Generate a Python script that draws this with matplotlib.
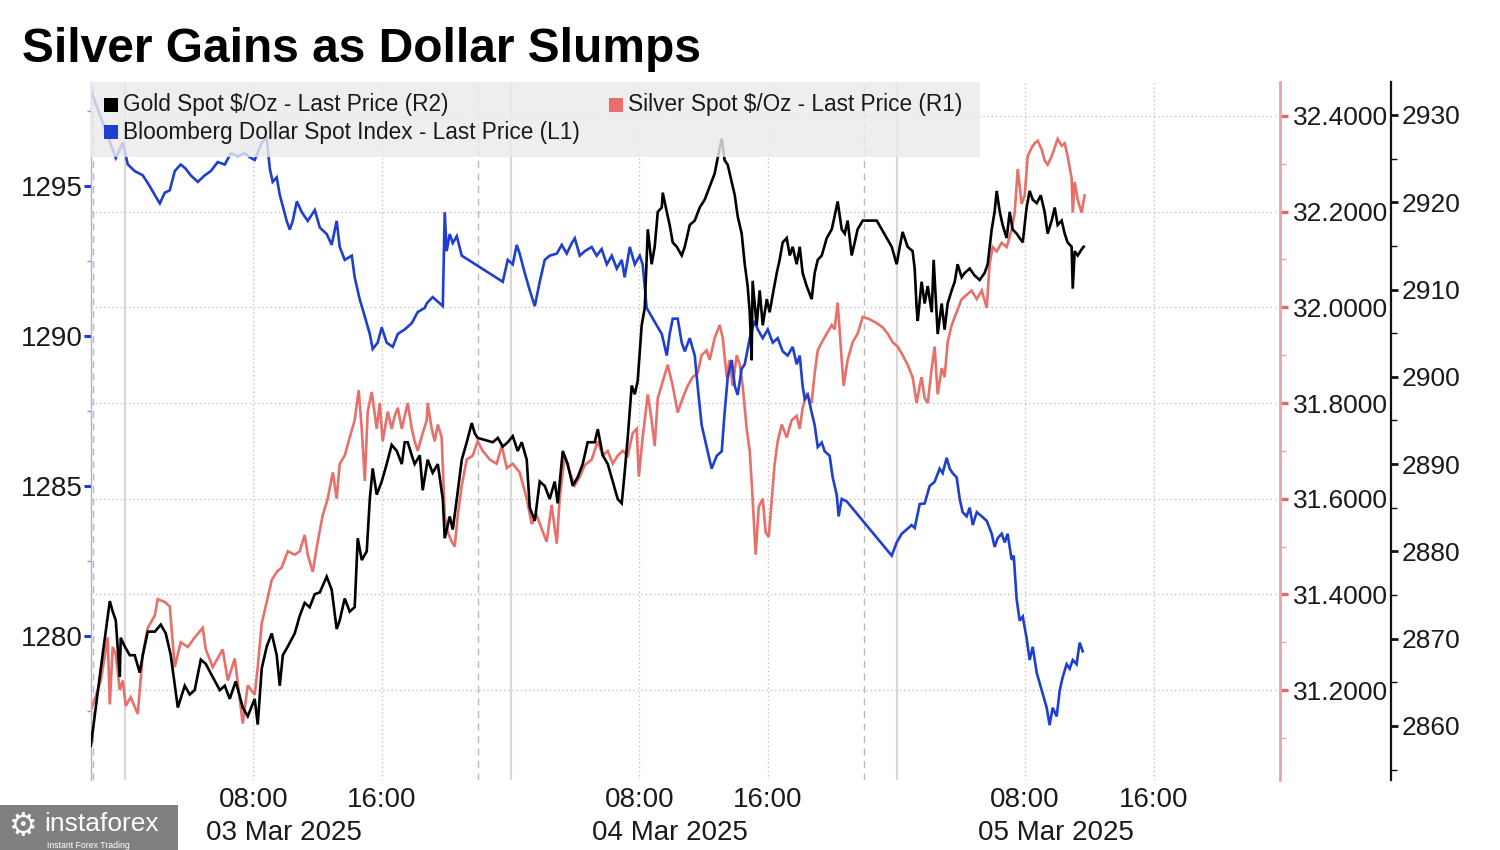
import matplotlib
matplotlib.use("Agg")
import matplotlib.pyplot as plt
from matplotlib import font_manager
from matplotlib.patches import Rectangle
from matplotlib.ticker import MultipleLocator, FormatStrFormatter


def pick(*names):
    for n in names:
        try:
            font_manager.findfont(font_manager.FontProperties(family=n), fallback_to_default=False)
            return n
        except Exception:
            pass
    return "DejaVu Sans"


NARROW = pick("Liberation Sans Narrow", "Liberation Sans", "DejaVu Sans")
SANS = pick("Liberation Sans", "DejaVu Sans")
IS_NARROW = NARROW == "Liberation Sans Narrow"
TICK_FS = 23 if IS_NARROW else 20
RTICK_FS = 23 if IS_NARROW else 19

# ---------------- data (time = hours since 03 Mar 2025 00:00) ----------------
title = "Silver Gains as Dollar Slumps"
series_names = ["Gold Spot $/Oz - Last Price (R2)",
                "Silver Spot $/Oz - Last Price (R1)",
                "Bloomberg Dollar Spot Index - Last Price (L1)"]

dxy_t = [-2.11, -0.56, -0.12, 0.19, 0.62, 1.12, 1.55, 1.87, 2.18, 2.49, 2.80, 3.11, 3.48, 3.79,
         4.10, 4.54, 4.98, 5.35, 5.78, 6.22, 6.59, 7.03, 7.46, 7.84, 8.08, 8.52, 8.83, 9.02,
         9.20, 9.45, 9.64, 10.07, 10.26, 10.45, 10.70, 11.01, 11.38, 11.82, 12.13, 12.56, 12.87,
         13.18, 13.37, 13.68, 14.12, 14.30, 14.61, 14.93, 15.24, 15.42, 15.73, 15.98, 16.29,
         16.67, 16.98, 17.41, 17.85, 18.22, 18.66, 18.78, 19.15, 19.59, 19.78, 19.90, 20.02,
         20.21, 20.40, 20.65, 20.96, 23.51, 23.82, 24.13, 24.38, 24.56, 24.88, 25.19, 25.50,
         25.81, 26.12, 26.43, 26.87, 27.18, 27.49, 27.80, 27.99, 28.30, 28.61, 29.04, 29.35,
         29.66, 29.98, 30.29, 30.60, 30.91, 31.09, 31.41, 31.72, 32.03, 32.21, 32.46, 32.77,
         33.08, 33.40, 33.71, 33.89, 34.08, 34.39, 34.64, 34.83, 35.14, 35.45, 35.63, 35.88,
         36.19, 36.50, 36.82, 37.13, 37.31, 37.50, 37.75, 37.94, 38.12, 38.37, 38.56, 38.87,
         39.18, 39.37, 39.68, 39.99, 40.30, 40.61, 40.92, 41.23, 41.54, 41.79, 41.98, 42.16,
         42.29, 42.48, 42.72, 42.91, 43.10, 43.35, 43.53, 43.84, 44.03, 44.28, 44.40, 44.59,
         44.90, 47.70, 48.01, 48.32, 48.63, 48.94, 49.13, 49.44, 49.75, 50.06, 50.37, 50.68,
         50.87, 51.12, 51.31, 51.49, 51.74, 51.93, 52.11, 52.36, 52.55, 52.74, 52.99, 53.30,
         53.61, 53.92, 54.10, 54.29, 54.54, 54.73, 54.91, 55.16, 55.29, 55.47, 55.66, 55.85,
         56.09, 56.28, 56.47, 56.72, 57.03, 57.34, 57.52, 57.71, 57.96, 58.15, 58.33, 58.58,
         58.77, 58.96, 59.20, 59.39, 59.58]
dxy_v = [1298.2, 1295.94, 1296.45, 1295.72, 1295.5, 1295.36, 1295.0, 1294.7, 1294.42, 1294.78,
         1294.86, 1295.5, 1295.72, 1295.58, 1295.36, 1295.14, 1295.36, 1295.5, 1295.8, 1295.72,
         1296.09, 1296.0, 1296.1, 1295.94, 1295.87, 1296.45, 1296.6, 1295.58, 1295.14, 1295.29,
         1294.71, 1293.84, 1293.55, 1293.84, 1294.49, 1294.13, 1293.84, 1294.2, 1293.62, 1293.4,
         1293.04, 1293.84, 1292.97, 1292.54, 1292.68, 1291.96, 1291.23, 1290.65, 1290.07,
         1289.57, 1289.78, 1290.29, 1289.78, 1289.64, 1290.07, 1290.22, 1290.43, 1290.8,
         1290.94, 1291.09, 1291.3, 1291.09, 1291.0, 1294.13, 1292.83, 1293.4, 1293.1, 1293.33,
         1292.68, 1291.81, 1292.54, 1292.39, 1293.04, 1292.75, 1292.1, 1291.52, 1291.0, 1291.81,
         1292.54, 1292.68, 1292.75, 1293.04, 1292.75, 1293.1, 1293.26, 1292.68, 1292.83,
         1292.97, 1292.68, 1292.9, 1292.39, 1292.68, 1292.25, 1292.54, 1291.96, 1292.97,
         1292.39, 1292.68, 1292.39, 1290.94, 1290.65, 1290.36, 1290.07, 1289.35, 1290.07,
         1290.58, 1290.58, 1289.78, 1289.49, 1289.93, 1289.35, 1288.33, 1287.03, 1286.3,
         1285.58, 1286.01, 1286.16, 1287.46, 1288.62, 1289.2, 1288.33, 1288.04, 1288.91,
         1289.06, 1289.93, 1290.51, 1290.22, 1289.93, 1290.22, 1289.78, 1289.93, 1289.49,
         1289.35, 1289.64, 1289.06, 1289.35, 1288.33, 1287.9, 1288.04, 1287.46, 1287.03,
         1286.3, 1286.45, 1286.16, 1286.01, 1285.29, 1284.71, 1283.99, 1284.57, 1284.49,
         1282.68, 1283.12, 1283.41, 1283.55, 1283.7, 1283.6, 1284.4, 1284.42, 1285.0, 1285.14,
         1285.58, 1285.43, 1285.94, 1285.58, 1285.43, 1285.29, 1284.57, 1284.13, 1283.99,
         1284.28, 1283.7, 1284.13, 1283.99, 1283.84, 1283.41, 1282.97, 1283.26, 1283.41,
         1283.12, 1283.41, 1282.54, 1282.68, 1281.23, 1280.51, 1280.65, 1279.93, 1279.2,
         1279.64, 1278.77, 1278.19, 1277.61, 1277.03, 1277.61, 1277.32, 1278.19, 1278.62,
         1279.06, 1278.91, 1279.2, 1279.06, 1279.78, 1279.49]

sil_t = [-2.11, -1.49, -1.06, -0.93, -0.75, -0.56, -0.31, -0.12, 0.06, 0.37, 0.81, 1.12, 1.43,
         1.87, 2.05, 2.49, 2.80, 3.11, 3.48, 3.92, 4.35, 4.85, 5.04, 5.47, 6.09, 6.41, 6.84, 7.34,
         7.65, 8.08, 8.27, 8.52, 8.83, 9.14, 9.45, 9.76, 10.14, 10.57, 10.88, 11.19, 11.38, 11.69,
         12.00, 12.31, 12.62, 12.94, 13.18, 13.37, 13.68, 13.99, 14.30, 14.55, 14.74, 14.93,
         15.11, 15.36, 15.67, 15.86, 16.04, 16.36, 16.60, 16.79, 16.98, 17.23, 17.60, 17.85,
         18.03, 18.22, 18.53, 18.78, 18.84, 19.09, 19.28, 19.47, 19.71, 19.90, 20.09, 20.34,
         20.52, 20.71, 20.96, 21.27, 21.64, 21.95, 22.26, 22.70, 23.13, 23.45, 23.76, 24.13,
         24.56, 25.00, 25.31, 25.62, 25.93, 26.24, 26.55, 26.87, 27.05, 27.36, 27.67, 27.99,
         28.30, 28.61, 29.04, 29.42, 29.73, 30.04, 30.35, 30.66, 30.97, 31.28, 31.59, 31.84,
         31.97, 32.21, 32.53, 32.77, 32.96, 33.15, 33.46, 33.77, 34.08, 34.39, 34.70, 35.01,
         35.32, 35.63, 35.88, 36.19, 36.38, 36.69, 37.00, 37.19, 37.44, 37.62, 37.81, 38.06,
         38.25, 38.43, 38.68, 38.87, 39.05, 39.24, 39.43, 39.68, 39.86, 40.05, 40.24, 40.42,
         40.61, 40.86, 41.17, 41.48, 41.79, 41.98, 42.16, 42.41, 42.72, 42.91, 43.10, 43.35,
         43.66, 43.97, 44.15, 44.34, 44.59, 44.71, 44.96, 45.27, 45.58, 45.90, 46.33, 46.77,
         47.14, 47.45, 47.76, 48.07, 48.38, 48.69, 49.00, 49.25, 49.44, 49.56, 49.75, 49.94,
         50.19, 50.37, 50.56, 50.81, 50.99, 51.18, 51.43, 51.74, 52.05, 52.36, 52.67, 52.99,
         53.30, 53.61, 53.79, 53.98, 54.23, 54.54, 54.85, 55.16, 55.35, 55.54, 55.78, 55.97,
         56.16, 56.41, 56.59, 56.78, 57.03, 57.21, 57.40, 57.65, 57.84, 58.02, 58.27, 58.46,
         58.64, 58.89, 58.96, 59.08, 59.27, 59.51, 59.70]
sil_v = [31.157, 31.22, 31.31, 31.17, 31.29, 31.275, 31.2, 31.22, 31.167, 31.185, 31.15, 31.275,
         31.33, 31.356, 31.39, 31.384, 31.375, 31.248, 31.3, 31.29, 31.31, 31.33, 31.285, 31.248,
         31.285, 31.22, 31.266, 31.13, 31.21, 31.19, 31.248, 31.34, 31.384, 31.43, 31.447,
         31.456, 31.49, 31.483, 31.49, 31.524, 31.483, 31.447, 31.51, 31.565, 31.6, 31.655, 31.6,
         31.673, 31.69, 31.728, 31.764, 31.827, 31.746, 31.637, 31.782, 31.823, 31.746, 31.8,
         31.72, 31.782, 31.746, 31.773, 31.79, 31.746, 31.8, 31.746, 31.72, 31.7, 31.737,
         31.764, 31.8, 31.746, 31.72, 31.755, 31.728, 31.565, 31.53, 31.51, 31.5, 31.565,
         31.628, 31.682, 31.69, 31.72, 31.7, 31.682, 31.673, 31.71, 31.664, 31.673, 31.655,
         31.6, 31.547, 31.565, 31.537, 31.51, 31.587, 31.506, 31.6, 31.69, 31.655, 31.628,
         31.646, 31.67, 31.682, 31.72, 31.69, 31.7, 31.673, 31.69, 31.7, 31.69, 31.737, 31.746,
         31.646, 31.728, 31.818, 31.764, 31.71, 31.81, 31.845, 31.88, 31.836, 31.78, 31.81,
         31.836, 31.854, 31.863, 31.9, 31.91, 31.89, 31.936, 31.963, 31.936, 31.854, 31.89,
         31.836, 31.9, 31.88, 31.836, 31.746, 31.7, 31.6, 31.483, 31.583, 31.6, 31.53, 31.52,
         31.6, 31.673, 31.72, 31.755, 31.728, 31.764, 31.773, 31.746, 31.79, 31.818, 31.8,
         31.863, 31.91, 31.927, 31.945, 31.963, 31.954, 32.01, 31.89, 31.836, 31.89, 31.927,
         31.945, 31.98, 31.975, 31.967, 31.958, 31.945, 31.927, 31.918, 31.9, 31.88, 31.854,
         31.8, 31.836, 31.854, 31.81, 31.8, 31.873, 31.918, 31.818, 31.873, 31.854, 31.927,
         31.963, 31.99, 32.017, 32.026, 32.035, 32.017, 32.035, 31.999, 32.09, 32.126, 32.117,
         32.135, 32.126, 32.162, 32.198, 32.289, 32.216, 32.234, 32.316, 32.334, 32.343,
         32.348, 32.33, 32.307, 32.298, 32.316, 32.334, 32.352, 32.338, 32.343, 32.316, 32.27,
         32.198, 32.262, 32.225, 32.198, 32.234]

gld_t = [-2.11, -1.49, -0.93, -0.75, -0.56, -0.31, -0.25, 0.00, 0.31, 0.62, 0.93, 1.12, 1.43,
         1.87, 2.24, 2.55, 2.86, 3.30, 3.73, 4.04, 4.35, 4.73, 5.04, 5.47, 5.91, 6.22, 6.53, 6.90,
         7.34, 7.65, 8.08, 8.27, 8.52, 8.83, 9.14, 9.45, 9.64, 9.83, 10.14, 10.57, 10.88, 11.19,
         11.50, 11.82, 12.13, 12.56, 12.87, 13.18, 13.37, 13.68, 13.99, 14.30, 14.49, 14.74,
         15.05, 15.24, 15.42, 15.67, 15.98, 16.29, 16.60, 16.92, 17.23, 17.41, 17.60, 17.85,
         18.03, 18.35, 18.53, 18.84, 19.15, 19.47, 19.78, 19.90, 20.21, 20.40, 20.65, 20.96,
         21.27, 21.58, 21.77, 21.95, 22.89, 23.20, 23.51, 23.82, 24.13, 24.44, 24.69, 25.00,
         25.19, 25.50, 25.81, 26.12, 26.43, 26.74, 26.93, 27.24, 27.55, 27.86, 28.17, 28.48,
         28.79, 29.23, 29.42, 29.73, 30.04, 30.35, 30.66, 30.91, 31.09, 31.28, 31.53, 31.72,
         31.90, 32.15, 32.34, 32.53, 32.77, 32.96, 33.15, 33.40, 33.46, 33.71, 33.89, 34.08,
         34.33, 34.64, 34.83, 35.14, 35.45, 35.76, 36.07, 36.38, 36.69, 36.88, 37.13, 37.31,
         37.50, 37.75, 37.94, 38.12, 38.37, 38.56, 38.74, 38.87, 38.99, 39.05, 39.30, 39.49,
         39.68, 39.93, 40.11, 40.30, 40.55, 40.73, 40.92, 41.17, 41.36, 41.54, 41.79, 41.98,
         42.16, 42.41, 42.72, 42.91, 43.10, 43.35, 43.66, 43.97, 44.15, 44.34, 44.59, 44.78,
         44.96, 45.21, 45.40, 45.58, 45.90, 46.77, 47.08, 47.39, 47.70, 48.01, 48.20, 48.38,
         48.69, 49.00, 49.13, 49.25, 49.32, 49.56, 49.75, 49.94, 50.19, 50.31, 50.56, 50.81,
         50.99, 51.18, 51.43, 51.62, 51.80, 52.05, 52.24, 52.55, 52.86, 53.17, 53.48, 53.67,
         53.92, 54.10, 54.23, 54.42, 54.60, 54.85, 55.04, 55.22, 55.47, 55.66, 55.85, 56.09,
         56.28, 56.47, 56.72, 56.97, 57.21, 57.40, 57.65, 57.84, 58.02, 58.27, 58.46, 58.64,
         58.89, 58.96, 59.08, 59.27, 59.51, 59.64]
gld_v = [2857.7, 2866.6, 2874.3, 2873.1, 2872.1, 2865.6, 2870.1, 2869.1, 2868.1, 2868.1, 2866.1,
         2868.1, 2870.8, 2870.8, 2871.6, 2870.6, 2868.1, 2862.1, 2864.6, 2863.6, 2864.1, 2867.6,
         2867.1, 2865.6, 2864.1, 2864.6, 2863.1, 2865.1, 2862.1, 2861.1, 2863.1, 2860.15,
         2866.6, 2869.1, 2870.6, 2868.1, 2864.6, 2868.1, 2869.1, 2870.6, 2872.6, 2874.1, 2873.6,
         2875.1, 2875.3, 2877.1, 2875.6, 2871.1, 2872.1, 2874.6, 2873.1, 2873.6, 2881.5, 2879.0,
         2880.0, 2886.0, 2889.5, 2886.5, 2888.0, 2890.0, 2892.2, 2891.5, 2890.0, 2892.5, 2892.5,
         2891.0, 2890.0, 2891.0, 2887.0, 2890.5, 2889.0, 2890.0, 2886.0, 2881.5, 2884.0, 2882.5,
         2886.0, 2890.5, 2892.5, 2894.7, 2893.5, 2893.0, 2892.5, 2893.0, 2892.0, 2892.5, 2893.2,
         2891.5, 2892.5, 2890.5, 2885.0, 2883.5, 2888.0, 2887.5, 2886.0, 2888.0, 2885.5, 2891.5,
         2890.0, 2887.5, 2888.5, 2890.0, 2892.5, 2892.5, 2894.0, 2891.0, 2890.0, 2888.0, 2886.0,
         2885.5, 2889.0, 2893.0, 2899.0, 2898.0, 2899.5, 2905.9, 2907.9, 2916.9, 2912.9, 2914.9,
         2918.9, 2919.4, 2921.1, 2918.9, 2917.4, 2915.4, 2914.9, 2913.9, 2914.9, 2917.4, 2917.9,
         2919.4, 2920.3, 2921.8, 2923.3, 2925.1, 2927.3, 2924.8, 2924.3, 2922.3, 2920.8, 2918.4,
         2916.4, 2912.9, 2910.4, 2907.4, 2901.9, 2911.0, 2905.9, 2909.9, 2905.9, 2908.9, 2907.4,
         2909.4, 2911.9, 2913.4, 2915.4, 2915.9, 2913.9, 2914.9, 2912.9, 2914.9, 2911.9, 2910.4,
         2908.9, 2911.9, 2913.4, 2913.9, 2915.9, 2916.9, 2918.4, 2920.1, 2916.9, 2916.4, 2917.9,
         2913.9, 2915.4, 2916.9, 2917.9, 2917.9, 2916.9, 2915.9, 2914.9, 2912.9, 2914.9, 2916.6,
         2914.9, 2914.4, 2912.4, 2907.9, 2906.4, 2910.9, 2908.4, 2910.4, 2907.4, 2913.4, 2904.9,
         2908.4, 2905.4, 2908.4, 2909.9, 2910.9, 2912.9, 2911.4, 2911.9, 2912.4, 2911.6, 2911.1,
         2911.9, 2912.9, 2916.9, 2918.9, 2921.3, 2918.9, 2917.4, 2915.9, 2918.9, 2916.9, 2916.4,
         2915.9, 2915.4, 2919.4, 2921.3, 2920.3, 2919.9, 2920.8, 2918.9, 2916.4, 2917.9, 2919.4,
         2917.4, 2917.9, 2916.4, 2915.4, 2914.9, 2910.1, 2914.4, 2913.9, 2914.6, 2914.9]

time_ticks = [8, 16, 32, 40, 56, 64]
time_labels = ["08:00", "16:00", "08:00", "16:00", "08:00", "16:00"]
day_starts = [0, 24, 48]
date_labels = ["03 Mar 2025", "04 Mar 2025", "05 Mar 2025"]
session_breaks = [-2, 22, 46]

# ---------------- styling ----------------
C_GOLD = "#000000"
C_SIL = "#e8706b"
C_DXY = "#1f3fcf"
TXT = "#1a1a1a"
LW = 1.9

W, H = 1500, 850
L, R, T, B = 91, 1280, 82, 780

fig = plt.figure(figsize=(W / 100, H / 100), dpi=100, facecolor="white")
ax_d = fig.add_axes([L / W, 1 - B / H, (R - L) / W, (B - T) / H])
ax_s = ax_d.twinx()
ax_g = ax_d.twinx()
ax_s.set_zorder(1)
ax_d.set_zorder(2)
ax_g.set_zorder(3)
for a in (ax_d, ax_s, ax_g):
    a.patch.set_visible(False)
    for s in ("top", "bottom", "left", "right"):
        a.spines[s].set_visible(False)

ax_d.set_xlim(-2.1, 71.85)
ax_d.set_ylim(1275.2, 1298.47)
ax_s.set_ylim(31.012, 32.471)
ax_g.set_ylim(2853.8, 2933.78)

# grid / session lines on the silver (bottom) axes
for h in time_ticks:
    ax_s.axvline(h, color="#c4c4c4", ls=(0, (1, 2)), lw=1.0, zorder=0)
for h in day_starts:
    ax_s.axvline(h, color="#d8d8d8", ls="-", lw=1.6, zorder=0)
for h in session_breaks:
    ax_s.axvline(h, color="#b8b8b8", ls=(0, (5, 4)), lw=1.0, zorder=0)
ax_s.yaxis.grid(True, color="#c4c4c4", ls=(0, (1, 2)), lw=1.0)
ax_s.set_axisbelow(True)

# series
ax_s.plot(sil_t, sil_v, color=C_SIL, lw=LW, zorder=2, solid_joinstyle="miter")
ax_d.plot(dxy_t, dxy_v, color=C_DXY, lw=LW, zorder=2, solid_joinstyle="miter")
ax_g.plot(gld_t, gld_v, color=C_GOLD, lw=LW, zorder=2, solid_joinstyle="miter")

# x axis
ax_d.set_xticks([])
for h, lab in zip(time_ticks, time_labels):
    ax_d.annotate(lab, xy=(h, 0), xycoords=("data", "axes fraction"), xytext=(0, -14.5),
                  textcoords="offset points", ha="center", va="center",
                  fontsize=TICK_FS, family=NARROW, color=TXT)
for d, lab in zip(day_starts, date_labels):
    ax_d.annotate(lab, xy=(d + 9.93, 0), xycoords=("data", "axes fraction"), xytext=(0, -38),
                  textcoords="offset points", ha="center", va="center",
                  fontsize=TICK_FS, family=NARROW, color=TXT)

# left axis (dollar index)
ax_d.spines["left"].set_visible(True)
ax_d.spines["left"].set_color("#aab3df")
ax_d.spines["left"].set_linewidth(1.0)
ax_d.yaxis.set_major_locator(MultipleLocator(5))
ax_d.yaxis.set_minor_locator(MultipleLocator(2.5))
ax_d.tick_params(axis="y", which="major", direction="out", length=5, width=2.2,
                 color=C_DXY, labelsize=TICK_FS, labelcolor=TXT, pad=1)
ax_d.tick_params(axis="y", which="minor", direction="out", length=3, width=1,
                 color="#8a96d6")
for lab in ax_d.get_yticklabels():
    lab.set_family(NARROW)

# silver axis (R1)
ax_s.spines["right"].set_visible(True)
ax_s.spines["right"].set_color("#e9a3a6")
ax_s.spines["right"].set_linewidth(2.0)
ax_s.yaxis.set_major_locator(MultipleLocator(0.2))
ax_s.yaxis.set_minor_locator(MultipleLocator(0.1))
ax_s.yaxis.set_major_formatter(FormatStrFormatter("%.4f"))
ax_s.tick_params(axis="y", which="major", direction="out", length=6, width=2.4,
                 color="#e06a6a", labelsize=RTICK_FS, labelcolor=TXT, pad=3)
ax_s.tick_params(axis="y", which="minor", direction="out", length=4, width=1,
                 color="#e9a3a6")

# gold axis (R2)
ax_g.spines["right"].set_visible(True)
ax_g.spines["right"].set_position(("axes", (1391 - L) / (R - L)))
ax_g.spines["right"].set_color("#111111")
ax_g.spines["right"].set_linewidth(1.6)
ax_g.yaxis.set_major_locator(MultipleLocator(10))
ax_g.yaxis.set_minor_locator(MultipleLocator(5))
ax_g.tick_params(axis="y", which="major", direction="out", length=5, width=2.0,
                 color="#111111", labelsize=RTICK_FS, labelcolor=TXT, pad=3)
ax_g.tick_params(axis="y", which="minor", direction="out", length=4, width=1,
                 color="#111111")
for a in (ax_s, ax_g):
    for lab in a.get_yticklabels():
        lab.set_family(NARROW)

# legend panel (semi-transparent over the lines)
fig.patches.append(Rectangle((L / W, 1 - 157 / H), (980 - L) / W, (157 - T) / H,
                             transform=fig.transFigure, facecolor="#ebebeb", alpha=0.82,
                             edgecolor="none", zorder=10))
legend_pos = [(111, 105), (616, 105), (111, 132)]
legend_col = [C_GOLD, C_SIL, C_DXY]
for (px, py), name, col in zip(legend_pos, series_names, legend_col):
    fig.patches.append(Rectangle(((px - 7) / W, 1 - (py + 7) / H), 14 / W, 14 / H,
                                 transform=fig.transFigure, facecolor=col,
                                 edgecolor="none", zorder=11))
    fig.text((px + 12) / W, 1 - py / H, name, fontsize=16.3, family=SANS, color=TXT,
             ha="left", va="center", zorder=12)

# title
fig.text(22 / W, 1 - 62 / H, title, fontsize=34.5, fontweight="bold", family=SANS,
         color="#000000", ha="left", va="baseline")

# watermark
fig.patches.append(Rectangle((0, 0), 178 / W, 45 / H, transform=fig.transFigure,
                             facecolor="#808080", edgecolor="none", zorder=20))
fig.text(23 / W, 1 - 827 / H, "\u2699", fontsize=23, family="DejaVu Sans", color="white",
         ha="center", va="center", zorder=21)
fig.text(44 / W, 1 - 831 / H, "instaforex", fontsize=19, family=NARROW, color="white",
         ha="left", va="baseline", zorder=21)
fig.text(47 / W, 1 - 848 / H, "Instant Forex Trading", fontsize=6.3, family=SANS,
         color="white", ha="left", va="baseline", zorder=21)

fig.savefig("out.png", dpi=100, facecolor="white")
